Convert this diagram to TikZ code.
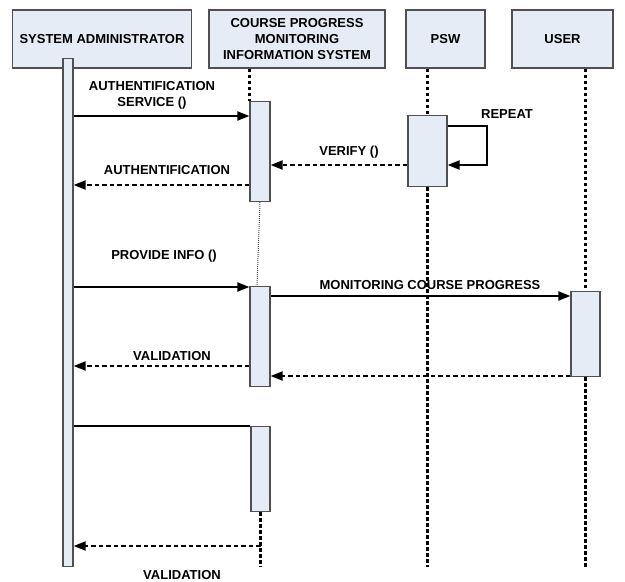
\documentclass[tikz,border=0pt]{standalone}
\usepackage{fontspec}
\setmainfont{Liberation Sans}
\usetikzlibrary{arrows.meta}
\definecolor{boxfill}{RGB}{230,236,246}
\definecolor{boxline}{RGB}{80,80,80}
\pgfdeclarelayer{bg}
\pgfsetlayers{bg,main}
\begin{document}
\begin{tikzpicture}[x=1pt,y=-1pt,
  font=\fontsize{13}{16}\selectfont\bfseries,
  head/.style={draw=boxline, fill=boxfill, line width=1.2pt, align=center,
    inner sep=0pt, minimum height=58pt},
  actbar/.style={draw=boxline, fill=boxfill, line width=1.2pt, inner sep=0pt},
  life/.style={line width=2.2pt, dash pattern=on 3.5pt off 2.5pt},
  call/.style={line width=2pt, -{Triangle[length=12pt,width=9pt]}},
  reply/.style={line width=2pt, dash pattern=on 4.5pt off 3pt,
    -{Triangle[length=12pt,width=9pt]}},
  lbl/.style={inner sep=0pt, align=center}
]
\useasboundingbox (0,0) rectangle (625,582);

% participants
\node[head, minimum width=179pt] (sa) at (102,39) {SYSTEM ADMINISTRATOR};
\node[head, minimum width=176pt] (cp) at (297,39) {COURSE PROGRESS\\MONITORING\\INFORMATION SYSTEM};
\node[head, minimum width=79pt] (psw) at (445.5,39) {PSW};
\node[head, minimum width=101pt] (usr) at (562.5,39) {USER};

% activation bars
\node[actbar, minimum width=10pt, minimum height=508pt, anchor=north] (sab) at (68,58) {};
\node[actbar, minimum width=20pt, minimum height=100pt, anchor=north] (c1) at (260,101) {};
\node[actbar, minimum width=20pt, minimum height=100pt, anchor=north] (c2) at (260,286) {};
\node[actbar, minimum width=19pt, minimum height=85pt, anchor=north] (c3) at (260.5,426) {};
\node[actbar, minimum width=39pt, minimum height=71pt, anchor=north] (pb) at (427.5,115) {};
\node[actbar, minimum width=29pt, minimum height=85pt, anchor=north] (ub) at (585.5,291) {};

% lifelines
\begin{pgfonlayer}{bg}
  \draw[life] (cp.south -| c1.west) -- (c1.north west);
  \draw[black!70, line width=1pt, dash pattern=on 1pt off 1pt] (c1.south) -- ([xshift=-3pt]c2.north);
  \draw[life] (c3.south) -- (c3.south |- sab.south);
  \draw[life] (psw.south -| pb) -- (pb.north);
  \draw[life] (pb.south) -- (pb.south |- sab.south);
  \draw[life] (usr.south -| ub) -- (ub.north);
  \draw[life] (ub.south) -- (ub.south |- sab.south);
\end{pgfonlayer}

% message rows
\coordinate (yauth) at (0,116);
\coordinate (yver)  at (0,165);
\coordinate (rp)    at (487,126);
\coordinate (yback) at (0,185);
\coordinate (yprov) at (0,287);
\coordinate (ymon)  at (0,296);
\coordinate (yval)  at (0,366);
\coordinate (yret)  at (0,376);
\coordinate (yline) at (0,426);
\coordinate (yfin)  at (0,546);

% messages
\draw[call]  (sab.east |- yauth) -- (c1.west |- yauth);
\draw[reply] (pb.west |- yver) -- (c1.east |- yver);
\draw[call]  (pb.east |- rp) -- (rp) -- (rp |- yver) -- (pb.east |- yver);
\draw[reply] (c1.west |- yback) -- (sab.east |- yback);
\draw[call]  (sab.east |- yprov) -- (c2.west |- yprov);
\draw[call]  (c2.east |- ymon) -- (ub.west |- ymon);
\draw[reply] (c2.west |- yval) -- (sab.east |- yval);
\draw[reply] (ub.west |- yret) -- (c2.east |- yret);
\draw[line width=2pt] (sab.east |- yline) -- (c3.west |- yline);
\draw[reply] (c3.south |- yfin) -- (sab.east |- yfin);

% message labels
\node[lbl] (l1) at (152,95) {AUTHENTIFICATION\\SERVICE ()};
\node[lbl] (l2) at (349,152) {VERIFY ()};
\node[lbl] (l3) at (507,114) {REPEAT};
\node[lbl] (l4) at (167,170) {AUTHENTIFICATION};
\node[lbl] (l5) at (164,256) {PROVIDE INFO ()};
\node[lbl] (l6) at (430,285) {MONITORING COURSE PROGRESS};
\node[lbl] (l7) at (172,356) {VALIDATION};
\node[lbl] (l8) at (182,575) {VALIDATION};
\end{tikzpicture}
\end{document}
